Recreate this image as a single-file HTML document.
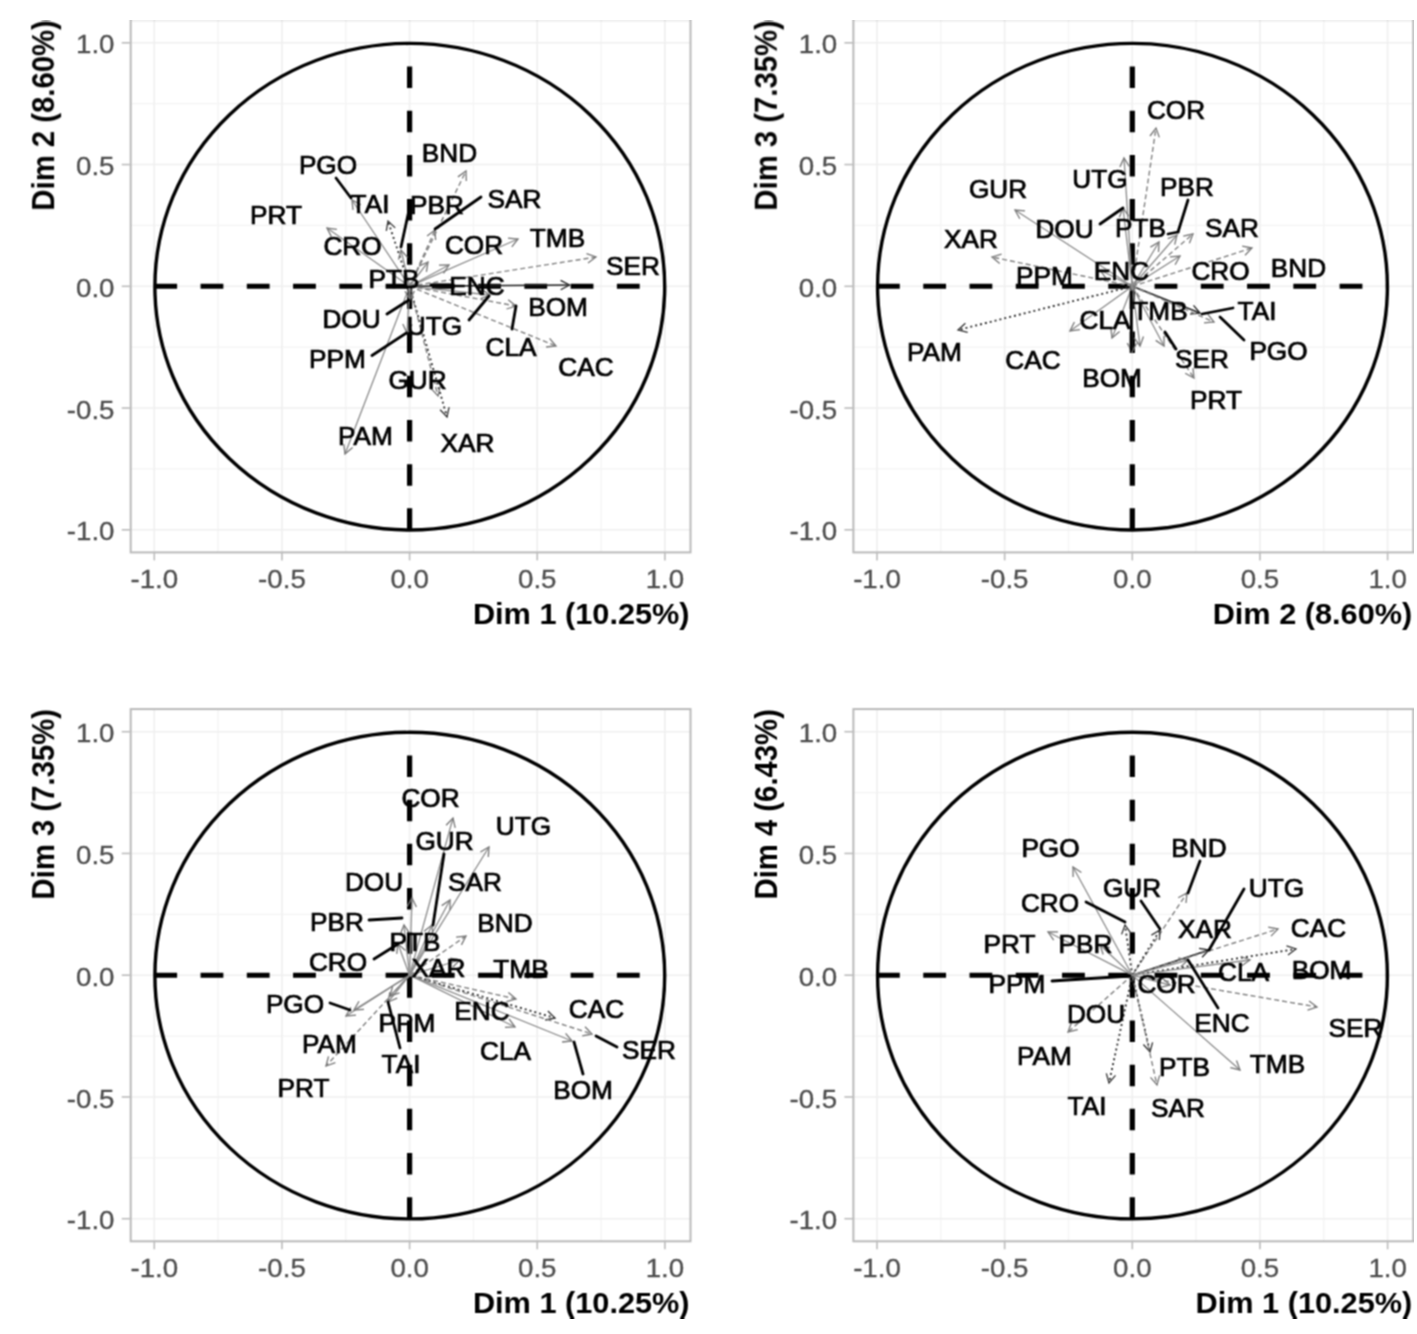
<!DOCTYPE html>
<html><head><meta charset="utf-8"><style>
html,body{margin:0;padding:0;background:#fff;}
svg{display:block;}
text{font-family:"Liberation Sans", sans-serif;}
</style></head><body>
<svg width="1417" height="1334" viewBox="0 0 1417 1334">
<defs><filter id="bl" x="0" y="0" width="1" height="1" color-interpolation-filters="sRGB"><feConvolveMatrix order="3" kernelMatrix="1 2 1 2 4 2 1 2 1" divisor="16" edgeMode="duplicate"/></filter></defs>
<rect width="1417" height="1334" fill="#fff"/>
<g filter="url(#bl)">
<line x1="218.12" y1="20.19999999999999" x2="218.12" y2="552.4000000000001" stroke="#f4f4f4" stroke-width="1.3"/>
<line x1="130.70000000000005" y1="468.93" x2="690.5" y2="468.93" stroke="#f4f4f4" stroke-width="1.3"/>
<line x1="345.78" y1="20.19999999999999" x2="345.78" y2="552.4000000000001" stroke="#f4f4f4" stroke-width="1.3"/>
<line x1="130.70000000000005" y1="347.18" x2="690.5" y2="347.18" stroke="#f4f4f4" stroke-width="1.3"/>
<line x1="473.43" y1="20.19999999999999" x2="473.43" y2="552.4000000000001" stroke="#f4f4f4" stroke-width="1.3"/>
<line x1="130.70000000000005" y1="225.43" x2="690.5" y2="225.43" stroke="#f4f4f4" stroke-width="1.3"/>
<line x1="601.08" y1="20.19999999999999" x2="601.08" y2="552.4000000000001" stroke="#f4f4f4" stroke-width="1.3"/>
<line x1="130.70000000000005" y1="103.68" x2="690.5" y2="103.68" stroke="#f4f4f4" stroke-width="1.3"/>
<line x1="154.30" y1="20.19999999999999" x2="154.30" y2="552.4000000000001" stroke="#efefef" stroke-width="1.6"/>
<line x1="130.70000000000005" y1="529.80" x2="690.5" y2="529.80" stroke="#efefef" stroke-width="1.6"/>
<line x1="281.95" y1="20.19999999999999" x2="281.95" y2="552.4000000000001" stroke="#efefef" stroke-width="1.6"/>
<line x1="130.70000000000005" y1="408.05" x2="690.5" y2="408.05" stroke="#efefef" stroke-width="1.6"/>
<line x1="409.60" y1="20.19999999999999" x2="409.60" y2="552.4000000000001" stroke="#efefef" stroke-width="1.6"/>
<line x1="130.70000000000005" y1="286.30" x2="690.5" y2="286.30" stroke="#efefef" stroke-width="1.6"/>
<line x1="537.25" y1="20.19999999999999" x2="537.25" y2="552.4000000000001" stroke="#efefef" stroke-width="1.6"/>
<line x1="130.70000000000005" y1="164.55" x2="690.5" y2="164.55" stroke="#efefef" stroke-width="1.6"/>
<line x1="664.90" y1="20.19999999999999" x2="664.90" y2="552.4000000000001" stroke="#efefef" stroke-width="1.6"/>
<line x1="130.70000000000005" y1="42.80" x2="690.5" y2="42.80" stroke="#efefef" stroke-width="1.6"/>
<rect x="130.70" y="20.20" width="559.80" height="532.20" fill="none" stroke="#bababa" stroke-width="2"/>
<line x1="154.30" y1="552.4000000000001" x2="154.30" y2="560.4000000000001" stroke="#bdbdbd" stroke-width="1.6"/>
<line x1="121.70000000000005" y1="529.80" x2="130.70000000000005" y2="529.80" stroke="#bdbdbd" stroke-width="1.6"/>
<text transform="translate(154.30,588.40) scale(1.0485,1)" font-size="26.4" text-anchor="middle" fill="#4d4d4d" font-weight="normal" stroke="#4d4d4d" stroke-width="0.3">-1.0</text>
<text transform="translate(114.50,540.40) scale(1.0485,1)" font-size="26.4" text-anchor="end" fill="#4d4d4d" font-weight="normal" stroke="#4d4d4d" stroke-width="0.3">-1.0</text>
<line x1="281.95" y1="552.4000000000001" x2="281.95" y2="560.4000000000001" stroke="#bdbdbd" stroke-width="1.6"/>
<line x1="121.70000000000005" y1="408.05" x2="130.70000000000005" y2="408.05" stroke="#bdbdbd" stroke-width="1.6"/>
<text transform="translate(281.95,588.40) scale(1.0485,1)" font-size="26.4" text-anchor="middle" fill="#4d4d4d" font-weight="normal" stroke="#4d4d4d" stroke-width="0.3">-0.5</text>
<text transform="translate(114.50,418.65) scale(1.0485,1)" font-size="26.4" text-anchor="end" fill="#4d4d4d" font-weight="normal" stroke="#4d4d4d" stroke-width="0.3">-0.5</text>
<line x1="409.60" y1="552.4000000000001" x2="409.60" y2="560.4000000000001" stroke="#bdbdbd" stroke-width="1.6"/>
<line x1="121.70000000000005" y1="286.30" x2="130.70000000000005" y2="286.30" stroke="#bdbdbd" stroke-width="1.6"/>
<text transform="translate(409.60,588.40) scale(1.0485,1)" font-size="26.4" text-anchor="middle" fill="#4d4d4d" font-weight="normal" stroke="#4d4d4d" stroke-width="0.3">0.0</text>
<text transform="translate(114.50,296.90) scale(1.0485,1)" font-size="26.4" text-anchor="end" fill="#4d4d4d" font-weight="normal" stroke="#4d4d4d" stroke-width="0.3">0.0</text>
<line x1="537.25" y1="552.4000000000001" x2="537.25" y2="560.4000000000001" stroke="#bdbdbd" stroke-width="1.6"/>
<line x1="121.70000000000005" y1="164.55" x2="130.70000000000005" y2="164.55" stroke="#bdbdbd" stroke-width="1.6"/>
<text transform="translate(537.25,588.40) scale(1.0485,1)" font-size="26.4" text-anchor="middle" fill="#4d4d4d" font-weight="normal" stroke="#4d4d4d" stroke-width="0.3">0.5</text>
<text transform="translate(114.50,175.15) scale(1.0485,1)" font-size="26.4" text-anchor="end" fill="#4d4d4d" font-weight="normal" stroke="#4d4d4d" stroke-width="0.3">0.5</text>
<line x1="664.90" y1="552.4000000000001" x2="664.90" y2="560.4000000000001" stroke="#bdbdbd" stroke-width="1.6"/>
<line x1="121.70000000000005" y1="42.80" x2="130.70000000000005" y2="42.80" stroke="#bdbdbd" stroke-width="1.6"/>
<text transform="translate(664.90,588.40) scale(1.0485,1)" font-size="26.4" text-anchor="middle" fill="#4d4d4d" font-weight="normal" stroke="#4d4d4d" stroke-width="0.3">1.0</text>
<text transform="translate(114.50,53.40) scale(1.0485,1)" font-size="26.4" text-anchor="end" fill="#4d4d4d" font-weight="normal" stroke="#4d4d4d" stroke-width="0.3">1.0</text>
<text transform="translate(689.60,623.70) scale(1.0485,1)" font-size="29.3" text-anchor="end" fill="#000" font-weight="bold" >Dim 1 (10.25%)</text>
<text transform="translate(54.40,20.20) scale(1.0485,1) rotate(-90)" font-size="29.3" text-anchor="end" fill="#000" font-weight="bold">Dim 2 (8.60%)</text>
<line x1="940.82" y1="20.19999999999999" x2="940.82" y2="552.4000000000001" stroke="#f4f4f4" stroke-width="1.3"/>
<line x1="853.4" y1="468.93" x2="1413.1999999999998" y2="468.93" stroke="#f4f4f4" stroke-width="1.3"/>
<line x1="1068.47" y1="20.19999999999999" x2="1068.47" y2="552.4000000000001" stroke="#f4f4f4" stroke-width="1.3"/>
<line x1="853.4" y1="347.18" x2="1413.1999999999998" y2="347.18" stroke="#f4f4f4" stroke-width="1.3"/>
<line x1="1196.12" y1="20.19999999999999" x2="1196.12" y2="552.4000000000001" stroke="#f4f4f4" stroke-width="1.3"/>
<line x1="853.4" y1="225.43" x2="1413.1999999999998" y2="225.43" stroke="#f4f4f4" stroke-width="1.3"/>
<line x1="1323.78" y1="20.19999999999999" x2="1323.78" y2="552.4000000000001" stroke="#f4f4f4" stroke-width="1.3"/>
<line x1="853.4" y1="103.68" x2="1413.1999999999998" y2="103.68" stroke="#f4f4f4" stroke-width="1.3"/>
<line x1="877.00" y1="20.19999999999999" x2="877.00" y2="552.4000000000001" stroke="#efefef" stroke-width="1.6"/>
<line x1="853.4" y1="529.80" x2="1413.1999999999998" y2="529.80" stroke="#efefef" stroke-width="1.6"/>
<line x1="1004.65" y1="20.19999999999999" x2="1004.65" y2="552.4000000000001" stroke="#efefef" stroke-width="1.6"/>
<line x1="853.4" y1="408.05" x2="1413.1999999999998" y2="408.05" stroke="#efefef" stroke-width="1.6"/>
<line x1="1132.30" y1="20.19999999999999" x2="1132.30" y2="552.4000000000001" stroke="#efefef" stroke-width="1.6"/>
<line x1="853.4" y1="286.30" x2="1413.1999999999998" y2="286.30" stroke="#efefef" stroke-width="1.6"/>
<line x1="1259.95" y1="20.19999999999999" x2="1259.95" y2="552.4000000000001" stroke="#efefef" stroke-width="1.6"/>
<line x1="853.4" y1="164.55" x2="1413.1999999999998" y2="164.55" stroke="#efefef" stroke-width="1.6"/>
<line x1="1387.60" y1="20.19999999999999" x2="1387.60" y2="552.4000000000001" stroke="#efefef" stroke-width="1.6"/>
<line x1="853.4" y1="42.80" x2="1413.1999999999998" y2="42.80" stroke="#efefef" stroke-width="1.6"/>
<rect x="853.40" y="20.20" width="559.80" height="532.20" fill="none" stroke="#bababa" stroke-width="2"/>
<line x1="877.00" y1="552.4000000000001" x2="877.00" y2="560.4000000000001" stroke="#bdbdbd" stroke-width="1.6"/>
<line x1="844.4" y1="529.80" x2="853.4" y2="529.80" stroke="#bdbdbd" stroke-width="1.6"/>
<text transform="translate(877.00,588.40) scale(1.0485,1)" font-size="26.4" text-anchor="middle" fill="#4d4d4d" font-weight="normal" stroke="#4d4d4d" stroke-width="0.3">-1.0</text>
<text transform="translate(837.20,540.40) scale(1.0485,1)" font-size="26.4" text-anchor="end" fill="#4d4d4d" font-weight="normal" stroke="#4d4d4d" stroke-width="0.3">-1.0</text>
<line x1="1004.65" y1="552.4000000000001" x2="1004.65" y2="560.4000000000001" stroke="#bdbdbd" stroke-width="1.6"/>
<line x1="844.4" y1="408.05" x2="853.4" y2="408.05" stroke="#bdbdbd" stroke-width="1.6"/>
<text transform="translate(1004.65,588.40) scale(1.0485,1)" font-size="26.4" text-anchor="middle" fill="#4d4d4d" font-weight="normal" stroke="#4d4d4d" stroke-width="0.3">-0.5</text>
<text transform="translate(837.20,418.65) scale(1.0485,1)" font-size="26.4" text-anchor="end" fill="#4d4d4d" font-weight="normal" stroke="#4d4d4d" stroke-width="0.3">-0.5</text>
<line x1="1132.30" y1="552.4000000000001" x2="1132.30" y2="560.4000000000001" stroke="#bdbdbd" stroke-width="1.6"/>
<line x1="844.4" y1="286.30" x2="853.4" y2="286.30" stroke="#bdbdbd" stroke-width="1.6"/>
<text transform="translate(1132.30,588.40) scale(1.0485,1)" font-size="26.4" text-anchor="middle" fill="#4d4d4d" font-weight="normal" stroke="#4d4d4d" stroke-width="0.3">0.0</text>
<text transform="translate(837.20,296.90) scale(1.0485,1)" font-size="26.4" text-anchor="end" fill="#4d4d4d" font-weight="normal" stroke="#4d4d4d" stroke-width="0.3">0.0</text>
<line x1="1259.95" y1="552.4000000000001" x2="1259.95" y2="560.4000000000001" stroke="#bdbdbd" stroke-width="1.6"/>
<line x1="844.4" y1="164.55" x2="853.4" y2="164.55" stroke="#bdbdbd" stroke-width="1.6"/>
<text transform="translate(1259.95,588.40) scale(1.0485,1)" font-size="26.4" text-anchor="middle" fill="#4d4d4d" font-weight="normal" stroke="#4d4d4d" stroke-width="0.3">0.5</text>
<text transform="translate(837.20,175.15) scale(1.0485,1)" font-size="26.4" text-anchor="end" fill="#4d4d4d" font-weight="normal" stroke="#4d4d4d" stroke-width="0.3">0.5</text>
<line x1="1387.60" y1="552.4000000000001" x2="1387.60" y2="560.4000000000001" stroke="#bdbdbd" stroke-width="1.6"/>
<line x1="844.4" y1="42.80" x2="853.4" y2="42.80" stroke="#bdbdbd" stroke-width="1.6"/>
<text transform="translate(1387.60,588.40) scale(1.0485,1)" font-size="26.4" text-anchor="middle" fill="#4d4d4d" font-weight="normal" stroke="#4d4d4d" stroke-width="0.3">1.0</text>
<text transform="translate(837.20,53.40) scale(1.0485,1)" font-size="26.4" text-anchor="end" fill="#4d4d4d" font-weight="normal" stroke="#4d4d4d" stroke-width="0.3">1.0</text>
<text transform="translate(1412.30,623.70) scale(1.0485,1)" font-size="29.3" text-anchor="end" fill="#000" font-weight="bold" >Dim 2 (8.60%)</text>
<text transform="translate(777.10,20.20) scale(1.0485,1) rotate(-90)" font-size="29.3" text-anchor="end" fill="#000" font-weight="bold">Dim 3 (7.35%)</text>
<line x1="218.12" y1="709.1" x2="218.12" y2="1241.3000000000002" stroke="#f4f4f4" stroke-width="1.3"/>
<line x1="130.70000000000005" y1="1157.83" x2="690.5" y2="1157.83" stroke="#f4f4f4" stroke-width="1.3"/>
<line x1="345.78" y1="709.1" x2="345.78" y2="1241.3000000000002" stroke="#f4f4f4" stroke-width="1.3"/>
<line x1="130.70000000000005" y1="1036.08" x2="690.5" y2="1036.08" stroke="#f4f4f4" stroke-width="1.3"/>
<line x1="473.43" y1="709.1" x2="473.43" y2="1241.3000000000002" stroke="#f4f4f4" stroke-width="1.3"/>
<line x1="130.70000000000005" y1="914.33" x2="690.5" y2="914.33" stroke="#f4f4f4" stroke-width="1.3"/>
<line x1="601.08" y1="709.1" x2="601.08" y2="1241.3000000000002" stroke="#f4f4f4" stroke-width="1.3"/>
<line x1="130.70000000000005" y1="792.58" x2="690.5" y2="792.58" stroke="#f4f4f4" stroke-width="1.3"/>
<line x1="154.30" y1="709.1" x2="154.30" y2="1241.3000000000002" stroke="#efefef" stroke-width="1.6"/>
<line x1="130.70000000000005" y1="1218.70" x2="690.5" y2="1218.70" stroke="#efefef" stroke-width="1.6"/>
<line x1="281.95" y1="709.1" x2="281.95" y2="1241.3000000000002" stroke="#efefef" stroke-width="1.6"/>
<line x1="130.70000000000005" y1="1096.95" x2="690.5" y2="1096.95" stroke="#efefef" stroke-width="1.6"/>
<line x1="409.60" y1="709.1" x2="409.60" y2="1241.3000000000002" stroke="#efefef" stroke-width="1.6"/>
<line x1="130.70000000000005" y1="975.20" x2="690.5" y2="975.20" stroke="#efefef" stroke-width="1.6"/>
<line x1="537.25" y1="709.1" x2="537.25" y2="1241.3000000000002" stroke="#efefef" stroke-width="1.6"/>
<line x1="130.70000000000005" y1="853.45" x2="690.5" y2="853.45" stroke="#efefef" stroke-width="1.6"/>
<line x1="664.90" y1="709.1" x2="664.90" y2="1241.3000000000002" stroke="#efefef" stroke-width="1.6"/>
<line x1="130.70000000000005" y1="731.70" x2="690.5" y2="731.70" stroke="#efefef" stroke-width="1.6"/>
<rect x="130.70" y="709.10" width="559.80" height="532.20" fill="none" stroke="#bababa" stroke-width="2"/>
<line x1="154.30" y1="1241.3000000000002" x2="154.30" y2="1249.3000000000002" stroke="#bdbdbd" stroke-width="1.6"/>
<line x1="121.70000000000005" y1="1218.70" x2="130.70000000000005" y2="1218.70" stroke="#bdbdbd" stroke-width="1.6"/>
<text transform="translate(154.30,1277.30) scale(1.0485,1)" font-size="26.4" text-anchor="middle" fill="#4d4d4d" font-weight="normal" stroke="#4d4d4d" stroke-width="0.3">-1.0</text>
<text transform="translate(114.50,1229.30) scale(1.0485,1)" font-size="26.4" text-anchor="end" fill="#4d4d4d" font-weight="normal" stroke="#4d4d4d" stroke-width="0.3">-1.0</text>
<line x1="281.95" y1="1241.3000000000002" x2="281.95" y2="1249.3000000000002" stroke="#bdbdbd" stroke-width="1.6"/>
<line x1="121.70000000000005" y1="1096.95" x2="130.70000000000005" y2="1096.95" stroke="#bdbdbd" stroke-width="1.6"/>
<text transform="translate(281.95,1277.30) scale(1.0485,1)" font-size="26.4" text-anchor="middle" fill="#4d4d4d" font-weight="normal" stroke="#4d4d4d" stroke-width="0.3">-0.5</text>
<text transform="translate(114.50,1107.55) scale(1.0485,1)" font-size="26.4" text-anchor="end" fill="#4d4d4d" font-weight="normal" stroke="#4d4d4d" stroke-width="0.3">-0.5</text>
<line x1="409.60" y1="1241.3000000000002" x2="409.60" y2="1249.3000000000002" stroke="#bdbdbd" stroke-width="1.6"/>
<line x1="121.70000000000005" y1="975.20" x2="130.70000000000005" y2="975.20" stroke="#bdbdbd" stroke-width="1.6"/>
<text transform="translate(409.60,1277.30) scale(1.0485,1)" font-size="26.4" text-anchor="middle" fill="#4d4d4d" font-weight="normal" stroke="#4d4d4d" stroke-width="0.3">0.0</text>
<text transform="translate(114.50,985.80) scale(1.0485,1)" font-size="26.4" text-anchor="end" fill="#4d4d4d" font-weight="normal" stroke="#4d4d4d" stroke-width="0.3">0.0</text>
<line x1="537.25" y1="1241.3000000000002" x2="537.25" y2="1249.3000000000002" stroke="#bdbdbd" stroke-width="1.6"/>
<line x1="121.70000000000005" y1="853.45" x2="130.70000000000005" y2="853.45" stroke="#bdbdbd" stroke-width="1.6"/>
<text transform="translate(537.25,1277.30) scale(1.0485,1)" font-size="26.4" text-anchor="middle" fill="#4d4d4d" font-weight="normal" stroke="#4d4d4d" stroke-width="0.3">0.5</text>
<text transform="translate(114.50,864.05) scale(1.0485,1)" font-size="26.4" text-anchor="end" fill="#4d4d4d" font-weight="normal" stroke="#4d4d4d" stroke-width="0.3">0.5</text>
<line x1="664.90" y1="1241.3000000000002" x2="664.90" y2="1249.3000000000002" stroke="#bdbdbd" stroke-width="1.6"/>
<line x1="121.70000000000005" y1="731.70" x2="130.70000000000005" y2="731.70" stroke="#bdbdbd" stroke-width="1.6"/>
<text transform="translate(664.90,1277.30) scale(1.0485,1)" font-size="26.4" text-anchor="middle" fill="#4d4d4d" font-weight="normal" stroke="#4d4d4d" stroke-width="0.3">1.0</text>
<text transform="translate(114.50,742.30) scale(1.0485,1)" font-size="26.4" text-anchor="end" fill="#4d4d4d" font-weight="normal" stroke="#4d4d4d" stroke-width="0.3">1.0</text>
<text transform="translate(689.60,1312.60) scale(1.0485,1)" font-size="29.3" text-anchor="end" fill="#000" font-weight="bold" >Dim 1 (10.25%)</text>
<text transform="translate(54.40,709.10) scale(1.0485,1) rotate(-90)" font-size="29.3" text-anchor="end" fill="#000" font-weight="bold">Dim 3 (7.35%)</text>
<line x1="940.82" y1="709.1" x2="940.82" y2="1241.3000000000002" stroke="#f4f4f4" stroke-width="1.3"/>
<line x1="853.4" y1="1157.83" x2="1413.1999999999998" y2="1157.83" stroke="#f4f4f4" stroke-width="1.3"/>
<line x1="1068.47" y1="709.1" x2="1068.47" y2="1241.3000000000002" stroke="#f4f4f4" stroke-width="1.3"/>
<line x1="853.4" y1="1036.08" x2="1413.1999999999998" y2="1036.08" stroke="#f4f4f4" stroke-width="1.3"/>
<line x1="1196.12" y1="709.1" x2="1196.12" y2="1241.3000000000002" stroke="#f4f4f4" stroke-width="1.3"/>
<line x1="853.4" y1="914.33" x2="1413.1999999999998" y2="914.33" stroke="#f4f4f4" stroke-width="1.3"/>
<line x1="1323.78" y1="709.1" x2="1323.78" y2="1241.3000000000002" stroke="#f4f4f4" stroke-width="1.3"/>
<line x1="853.4" y1="792.58" x2="1413.1999999999998" y2="792.58" stroke="#f4f4f4" stroke-width="1.3"/>
<line x1="877.00" y1="709.1" x2="877.00" y2="1241.3000000000002" stroke="#efefef" stroke-width="1.6"/>
<line x1="853.4" y1="1218.70" x2="1413.1999999999998" y2="1218.70" stroke="#efefef" stroke-width="1.6"/>
<line x1="1004.65" y1="709.1" x2="1004.65" y2="1241.3000000000002" stroke="#efefef" stroke-width="1.6"/>
<line x1="853.4" y1="1096.95" x2="1413.1999999999998" y2="1096.95" stroke="#efefef" stroke-width="1.6"/>
<line x1="1132.30" y1="709.1" x2="1132.30" y2="1241.3000000000002" stroke="#efefef" stroke-width="1.6"/>
<line x1="853.4" y1="975.20" x2="1413.1999999999998" y2="975.20" stroke="#efefef" stroke-width="1.6"/>
<line x1="1259.95" y1="709.1" x2="1259.95" y2="1241.3000000000002" stroke="#efefef" stroke-width="1.6"/>
<line x1="853.4" y1="853.45" x2="1413.1999999999998" y2="853.45" stroke="#efefef" stroke-width="1.6"/>
<line x1="1387.60" y1="709.1" x2="1387.60" y2="1241.3000000000002" stroke="#efefef" stroke-width="1.6"/>
<line x1="853.4" y1="731.70" x2="1413.1999999999998" y2="731.70" stroke="#efefef" stroke-width="1.6"/>
<rect x="853.40" y="709.10" width="559.80" height="532.20" fill="none" stroke="#bababa" stroke-width="2"/>
<line x1="877.00" y1="1241.3000000000002" x2="877.00" y2="1249.3000000000002" stroke="#bdbdbd" stroke-width="1.6"/>
<line x1="844.4" y1="1218.70" x2="853.4" y2="1218.70" stroke="#bdbdbd" stroke-width="1.6"/>
<text transform="translate(877.00,1277.30) scale(1.0485,1)" font-size="26.4" text-anchor="middle" fill="#4d4d4d" font-weight="normal" stroke="#4d4d4d" stroke-width="0.3">-1.0</text>
<text transform="translate(837.20,1229.30) scale(1.0485,1)" font-size="26.4" text-anchor="end" fill="#4d4d4d" font-weight="normal" stroke="#4d4d4d" stroke-width="0.3">-1.0</text>
<line x1="1004.65" y1="1241.3000000000002" x2="1004.65" y2="1249.3000000000002" stroke="#bdbdbd" stroke-width="1.6"/>
<line x1="844.4" y1="1096.95" x2="853.4" y2="1096.95" stroke="#bdbdbd" stroke-width="1.6"/>
<text transform="translate(1004.65,1277.30) scale(1.0485,1)" font-size="26.4" text-anchor="middle" fill="#4d4d4d" font-weight="normal" stroke="#4d4d4d" stroke-width="0.3">-0.5</text>
<text transform="translate(837.20,1107.55) scale(1.0485,1)" font-size="26.4" text-anchor="end" fill="#4d4d4d" font-weight="normal" stroke="#4d4d4d" stroke-width="0.3">-0.5</text>
<line x1="1132.30" y1="1241.3000000000002" x2="1132.30" y2="1249.3000000000002" stroke="#bdbdbd" stroke-width="1.6"/>
<line x1="844.4" y1="975.20" x2="853.4" y2="975.20" stroke="#bdbdbd" stroke-width="1.6"/>
<text transform="translate(1132.30,1277.30) scale(1.0485,1)" font-size="26.4" text-anchor="middle" fill="#4d4d4d" font-weight="normal" stroke="#4d4d4d" stroke-width="0.3">0.0</text>
<text transform="translate(837.20,985.80) scale(1.0485,1)" font-size="26.4" text-anchor="end" fill="#4d4d4d" font-weight="normal" stroke="#4d4d4d" stroke-width="0.3">0.0</text>
<line x1="1259.95" y1="1241.3000000000002" x2="1259.95" y2="1249.3000000000002" stroke="#bdbdbd" stroke-width="1.6"/>
<line x1="844.4" y1="853.45" x2="853.4" y2="853.45" stroke="#bdbdbd" stroke-width="1.6"/>
<text transform="translate(1259.95,1277.30) scale(1.0485,1)" font-size="26.4" text-anchor="middle" fill="#4d4d4d" font-weight="normal" stroke="#4d4d4d" stroke-width="0.3">0.5</text>
<text transform="translate(837.20,864.05) scale(1.0485,1)" font-size="26.4" text-anchor="end" fill="#4d4d4d" font-weight="normal" stroke="#4d4d4d" stroke-width="0.3">0.5</text>
<line x1="1387.60" y1="1241.3000000000002" x2="1387.60" y2="1249.3000000000002" stroke="#bdbdbd" stroke-width="1.6"/>
<line x1="844.4" y1="731.70" x2="853.4" y2="731.70" stroke="#bdbdbd" stroke-width="1.6"/>
<text transform="translate(1387.60,1277.30) scale(1.0485,1)" font-size="26.4" text-anchor="middle" fill="#4d4d4d" font-weight="normal" stroke="#4d4d4d" stroke-width="0.3">1.0</text>
<text transform="translate(837.20,742.30) scale(1.0485,1)" font-size="26.4" text-anchor="end" fill="#4d4d4d" font-weight="normal" stroke="#4d4d4d" stroke-width="0.3">1.0</text>
<text transform="translate(1412.30,1312.60) scale(1.0485,1)" font-size="29.3" text-anchor="end" fill="#000" font-weight="bold" >Dim 1 (10.25%)</text>
<text transform="translate(777.10,709.10) scale(1.0485,1) rotate(-90)" font-size="29.3" text-anchor="end" fill="#000" font-weight="bold">Dim 4 (6.43%)</text>
<line x1="154.30" y1="286.30" x2="664.90" y2="286.30" stroke="#000" stroke-width="5.0" stroke-dasharray="22.8 23.46"/>
<line x1="409.60" y1="529.80" x2="409.60" y2="42.80" stroke="#000" stroke-width="5.2" stroke-dasharray="21.5 22.67"/>
<ellipse cx="409.80" cy="286.70" rx="254.9" ry="243.3" fill="none" stroke="#000" stroke-width="3.4"/>
<line x1="877.00" y1="286.30" x2="1387.60" y2="286.30" stroke="#000" stroke-width="5.0" stroke-dasharray="22.8 23.46"/>
<line x1="1132.30" y1="529.80" x2="1132.30" y2="42.80" stroke="#000" stroke-width="5.2" stroke-dasharray="21.5 22.67"/>
<ellipse cx="1132.50" cy="286.70" rx="254.9" ry="243.3" fill="none" stroke="#000" stroke-width="3.4"/>
<line x1="154.30" y1="975.20" x2="664.90" y2="975.20" stroke="#000" stroke-width="5.0" stroke-dasharray="22.8 23.46"/>
<line x1="409.60" y1="1218.70" x2="409.60" y2="731.70" stroke="#000" stroke-width="5.2" stroke-dasharray="21.5 22.67"/>
<ellipse cx="409.80" cy="975.60" rx="254.9" ry="243.3" fill="none" stroke="#000" stroke-width="3.4"/>
<line x1="877.00" y1="975.20" x2="1387.60" y2="975.20" stroke="#000" stroke-width="5.0" stroke-dasharray="22.8 23.46"/>
<line x1="1132.30" y1="1218.70" x2="1132.30" y2="731.70" stroke="#000" stroke-width="5.2" stroke-dasharray="21.5 22.67"/>
<ellipse cx="1132.50" cy="975.60" rx="254.9" ry="243.3" fill="none" stroke="#000" stroke-width="3.4"/>
<line x1="409.6" y1="286.3" x2="352.0" y2="200.0" stroke="#8a8a8a" stroke-width="1.3"/>
<polyline points="360.8,204.7 352.0,200.0 353.0,210.0" fill="none" stroke="#777" stroke-width="1.3"/>
<line x1="409.6" y1="286.3" x2="388.0" y2="221.0" stroke="#333" stroke-width="1.9" stroke-dasharray="2 3"/>
<polyline points="395.2,227.9 388.0,221.0 386.3,230.9" fill="none" stroke="#333" stroke-width="1.3"/>
<line x1="409.6" y1="286.3" x2="327.0" y2="228.0" stroke="#8a8a8a" stroke-width="1.3"/>
<polyline points="336.9,229.3 327.0,228.0 331.5,236.9" fill="none" stroke="#777" stroke-width="1.3"/>
<line x1="409.6" y1="286.3" x2="401.0" y2="250.0" stroke="#8a8a8a" stroke-width="1.3"/>
<polyline points="407.6,257.5 401.0,250.0 398.5,259.7" fill="none" stroke="#777" stroke-width="1.3"/>
<line x1="409.6" y1="286.3" x2="466.0" y2="171.0" stroke="#808080" stroke-width="1.4" stroke-dasharray="5 3"/>
<polyline points="466.3,181.0 466.0,171.0 457.9,176.9" fill="none" stroke="#777" stroke-width="1.3"/>
<line x1="409.6" y1="286.3" x2="435.0" y2="230.0" stroke="#808080" stroke-width="1.4" stroke-dasharray="5 3"/>
<polyline points="435.6,240.0 435.0,230.0 427.1,236.1" fill="none" stroke="#777" stroke-width="1.3"/>
<line x1="409.6" y1="286.3" x2="518.0" y2="239.0" stroke="#8a8a8a" stroke-width="1.3"/>
<polyline points="511.8,246.8 518.0,239.0 508.0,238.2" fill="none" stroke="#777" stroke-width="1.3"/>
<line x1="409.6" y1="286.3" x2="449.0" y2="265.0" stroke="#8a8a8a" stroke-width="1.3"/>
<polyline points="443.5,273.3 449.0,265.0 439.0,265.1" fill="none" stroke="#777" stroke-width="1.3"/>
<line x1="409.6" y1="286.3" x2="428.0" y2="262.0" stroke="#8a8a8a" stroke-width="1.3"/>
<polyline points="426.4,271.9 428.0,262.0 418.9,266.2" fill="none" stroke="#777" stroke-width="1.3"/>
<line x1="409.6" y1="286.3" x2="596.0" y2="257.0" stroke="#808080" stroke-width="1.4" stroke-dasharray="5 3"/>
<polyline points="588.0,263.0 596.0,257.0 586.5,253.7" fill="none" stroke="#777" stroke-width="1.3"/>
<line x1="409.6" y1="286.3" x2="569.5" y2="285.0" stroke="#222" stroke-width="1.6"/>
<polyline points="560.7,289.8 569.5,285.0 560.6,280.4" fill="none" stroke="#222" stroke-width="1.3"/>
<line x1="409.6" y1="286.3" x2="516.0" y2="306.0" stroke="#808080" stroke-width="1.4" stroke-dasharray="5 3"/>
<polyline points="506.5,309.0 516.0,306.0 508.2,299.8" fill="none" stroke="#777" stroke-width="1.3"/>
<line x1="409.6" y1="286.3" x2="556.0" y2="346.0" stroke="#808080" stroke-width="1.4" stroke-dasharray="5 3"/>
<polyline points="546.1,347.0 556.0,346.0 549.6,338.3" fill="none" stroke="#777" stroke-width="1.3"/>
<line x1="409.6" y1="286.3" x2="490.0" y2="295.0" stroke="#8a8a8a" stroke-width="1.3"/>
<polyline points="480.7,298.7 490.0,295.0 481.7,289.4" fill="none" stroke="#777" stroke-width="1.3"/>
<line x1="409.6" y1="286.3" x2="447.0" y2="417.0" stroke="#333" stroke-width="1.9" stroke-dasharray="2 3"/>
<polyline points="440.1,409.8 447.0,417.0 449.1,407.2" fill="none" stroke="#333" stroke-width="1.3"/>
<line x1="409.6" y1="286.3" x2="438.0" y2="396.0" stroke="#808080" stroke-width="1.4" stroke-dasharray="5 3"/>
<polyline points="431.2,388.6 438.0,396.0 440.3,386.3" fill="none" stroke="#777" stroke-width="1.3"/>
<line x1="409.6" y1="286.3" x2="345.0" y2="454.0" stroke="#8a8a8a" stroke-width="1.3"/>
<polyline points="343.8,444.1 345.0,454.0 352.6,447.4" fill="none" stroke="#777" stroke-width="1.3"/>
<line x1="409.6" y1="286.3" x2="407.0" y2="333.0" stroke="#8a8a8a" stroke-width="1.3"/>
<polyline points="402.8,323.9 407.0,333.0 412.2,324.4" fill="none" stroke="#777" stroke-width="1.3"/>
<line x1="409.6" y1="286.3" x2="410.0" y2="300.0" stroke="#8a8a8a" stroke-width="1.3"/>
<polyline points="405.0,291.3 410.0,300.0 414.4,291.0" fill="none" stroke="#777" stroke-width="1.3"/>
<line x1="336" y1="178" x2="351" y2="198" stroke="#000" stroke-width="2.8" stroke-linecap="round"/>
<line x1="411" y1="201" x2="401" y2="247" stroke="#000" stroke-width="2.8" stroke-linecap="round"/>
<line x1="481" y1="197" x2="435" y2="229" stroke="#000" stroke-width="2.8" stroke-linecap="round"/>
<line x1="431" y1="285" x2="450" y2="285" stroke="#000" stroke-width="2.8" stroke-linecap="round"/>
<line x1="512" y1="329" x2="516" y2="306" stroke="#000" stroke-width="2.8" stroke-linecap="round"/>
<line x1="469" y1="320" x2="489" y2="296" stroke="#000" stroke-width="2.8" stroke-linecap="round"/>
<line x1="387" y1="314" x2="409" y2="300" stroke="#000" stroke-width="2.8" stroke-linecap="round"/>
<line x1="372" y1="355.5" x2="406.5" y2="333" stroke="#000" stroke-width="2.8" stroke-linecap="round"/>
<text transform="translate(328.00,173.90) scale(1.0485,1)" font-size="25.0" text-anchor="middle" fill="#000" font-weight="normal" stroke="#000" stroke-width="0.75">PGO</text>
<text transform="translate(449.50,161.90) scale(1.0485,1)" font-size="25.0" text-anchor="middle" fill="#000" font-weight="normal" stroke="#000" stroke-width="0.75">BND</text>
<text transform="translate(370.00,212.90) scale(1.0485,1)" font-size="25.0" text-anchor="middle" fill="#000" font-weight="normal" stroke="#000" stroke-width="0.75">TAI</text>
<text transform="translate(437.00,213.90) scale(1.0485,1)" font-size="25.0" text-anchor="middle" fill="#000" font-weight="normal" stroke="#000" stroke-width="0.75">PBR</text>
<text transform="translate(514.50,207.90) scale(1.0485,1)" font-size="25.0" text-anchor="middle" fill="#000" font-weight="normal" stroke="#000" stroke-width="0.75">SAR</text>
<text transform="translate(276.00,223.90) scale(1.0485,1)" font-size="25.0" text-anchor="middle" fill="#000" font-weight="normal" stroke="#000" stroke-width="0.75">PRT</text>
<text transform="translate(352.50,254.90) scale(1.0485,1)" font-size="25.0" text-anchor="middle" fill="#000" font-weight="normal" stroke="#000" stroke-width="0.75">CRO</text>
<text transform="translate(474.00,253.90) scale(1.0485,1)" font-size="25.0" text-anchor="middle" fill="#000" font-weight="normal" stroke="#000" stroke-width="0.75">COR</text>
<text transform="translate(394.00,287.90) scale(1.0485,1)" font-size="25.0" text-anchor="middle" fill="#000" font-weight="normal" stroke="#000" stroke-width="0.75">PTB</text>
<text transform="translate(477.00,294.90) scale(1.0485,1)" font-size="25.0" text-anchor="middle" fill="#000" font-weight="normal" stroke="#000" stroke-width="0.75">ENC</text>
<text transform="translate(351.50,327.90) scale(1.0485,1)" font-size="25.0" text-anchor="middle" fill="#000" font-weight="normal" stroke="#000" stroke-width="0.75">DOU</text>
<text transform="translate(434.50,334.90) scale(1.0485,1)" font-size="25.0" text-anchor="middle" fill="#000" font-weight="normal" stroke="#000" stroke-width="0.75">UTG</text>
<text transform="translate(337.50,367.90) scale(1.0485,1)" font-size="25.0" text-anchor="middle" fill="#000" font-weight="normal" stroke="#000" stroke-width="0.75">PPM</text>
<text transform="translate(417.50,388.90) scale(1.0485,1)" font-size="25.0" text-anchor="middle" fill="#000" font-weight="normal" stroke="#000" stroke-width="0.75">GUR</text>
<text transform="translate(511.00,355.90) scale(1.0485,1)" font-size="25.0" text-anchor="middle" fill="#000" font-weight="normal" stroke="#000" stroke-width="0.75">CLA</text>
<text transform="translate(557.50,246.90) scale(1.0485,1)" font-size="25.0" text-anchor="middle" fill="#000" font-weight="normal" stroke="#000" stroke-width="0.75">TMB</text>
<text transform="translate(633.00,274.90) scale(1.0485,1)" font-size="25.0" text-anchor="middle" fill="#000" font-weight="normal" stroke="#000" stroke-width="0.75">SER</text>
<text transform="translate(558.00,315.90) scale(1.0485,1)" font-size="25.0" text-anchor="middle" fill="#000" font-weight="normal" stroke="#000" stroke-width="0.75">BOM</text>
<text transform="translate(586.00,375.90) scale(1.0485,1)" font-size="25.0" text-anchor="middle" fill="#000" font-weight="normal" stroke="#000" stroke-width="0.75">CAC</text>
<text transform="translate(365.50,444.90) scale(1.0485,1)" font-size="25.0" text-anchor="middle" fill="#000" font-weight="normal" stroke="#000" stroke-width="0.75">PAM</text>
<text transform="translate(467.50,451.90) scale(1.0485,1)" font-size="25.0" text-anchor="middle" fill="#000" font-weight="normal" stroke="#000" stroke-width="0.75">XAR</text>
<line x1="1132.3" y1="286.3" x2="1156.0" y2="128.0" stroke="#808080" stroke-width="1.4" stroke-dasharray="5 3"/>
<polyline points="1159.3,137.4 1156.0,128.0 1150.0,136.0" fill="none" stroke="#777" stroke-width="1.3"/>
<line x1="1132.3" y1="286.3" x2="1124.0" y2="158.0" stroke="#8a8a8a" stroke-width="1.3"/>
<polyline points="1129.3,166.5 1124.0,158.0 1119.9,167.1" fill="none" stroke="#777" stroke-width="1.3"/>
<line x1="1132.3" y1="286.3" x2="1015.0" y2="210.0" stroke="#8a8a8a" stroke-width="1.3"/>
<polyline points="1025.0,210.9 1015.0,210.0 1019.8,218.7" fill="none" stroke="#777" stroke-width="1.3"/>
<line x1="1132.3" y1="286.3" x2="992.0" y2="257.0" stroke="#808080" stroke-width="1.4" stroke-dasharray="5 3"/>
<polyline points="1001.6,254.2 992.0,257.0 999.7,263.4" fill="none" stroke="#777" stroke-width="1.3"/>
<line x1="1132.3" y1="286.3" x2="958.0" y2="330.0" stroke="#333" stroke-width="1.9" stroke-dasharray="2 3"/>
<polyline points="965.4,323.3 958.0,330.0 967.7,332.4" fill="none" stroke="#333" stroke-width="1.3"/>
<line x1="1132.3" y1="286.3" x2="1070.0" y2="331.0" stroke="#8a8a8a" stroke-width="1.3"/>
<polyline points="1074.4,322.0 1070.0,331.0 1079.9,329.7" fill="none" stroke="#777" stroke-width="1.3"/>
<line x1="1132.3" y1="286.3" x2="1112.0" y2="338.0" stroke="#8a8a8a" stroke-width="1.3"/>
<polyline points="1110.9,328.1 1112.0,338.0 1119.6,331.5" fill="none" stroke="#777" stroke-width="1.3"/>
<line x1="1132.3" y1="286.3" x2="1132.0" y2="352.0" stroke="#8a8a8a" stroke-width="1.3"/>
<polyline points="1127.3,343.1 1132.0,352.0 1136.7,343.2" fill="none" stroke="#777" stroke-width="1.3"/>
<line x1="1132.3" y1="286.3" x2="1177.0" y2="235.0" stroke="#8a8a8a" stroke-width="1.3"/>
<polyline points="1174.7,244.7 1177.0,235.0 1167.7,238.6" fill="none" stroke="#777" stroke-width="1.3"/>
<line x1="1132.3" y1="286.3" x2="1193.0" y2="234.0" stroke="#808080" stroke-width="1.4" stroke-dasharray="5 3"/>
<polyline points="1189.4,243.3 1193.0,234.0 1183.2,236.2" fill="none" stroke="#777" stroke-width="1.3"/>
<line x1="1132.3" y1="286.3" x2="1252.0" y2="248.0" stroke="#808080" stroke-width="1.4" stroke-dasharray="5 3"/>
<polyline points="1245.0,255.2 1252.0,248.0 1242.2,246.2" fill="none" stroke="#777" stroke-width="1.3"/>
<line x1="1132.3" y1="286.3" x2="1180.0" y2="256.0" stroke="#8a8a8a" stroke-width="1.3"/>
<polyline points="1175.1,264.7 1180.0,256.0 1170.0,256.8" fill="none" stroke="#777" stroke-width="1.3"/>
<line x1="1132.3" y1="286.3" x2="1200.0" y2="313.0" stroke="#222" stroke-width="1.6"/>
<polyline points="1190.1,314.1 1200.0,313.0 1193.5,305.4" fill="none" stroke="#222" stroke-width="1.3"/>
<line x1="1132.3" y1="286.3" x2="1214.0" y2="322.0" stroke="#808080" stroke-width="1.4" stroke-dasharray="5 3"/>
<polyline points="1204.0,322.8 1214.0,322.0 1207.8,314.2" fill="none" stroke="#777" stroke-width="1.3"/>
<line x1="1132.3" y1="286.3" x2="1194.0" y2="378.0" stroke="#808080" stroke-width="1.4" stroke-dasharray="5 3"/>
<polyline points="1185.2,373.3 1194.0,378.0 1193.0,368.1" fill="none" stroke="#777" stroke-width="1.3"/>
<line x1="1132.3" y1="286.3" x2="1164.0" y2="346.0" stroke="#8a8a8a" stroke-width="1.3"/>
<polyline points="1155.7,340.4 1164.0,346.0 1164.0,336.0" fill="none" stroke="#777" stroke-width="1.3"/>
<line x1="1132.3" y1="286.3" x2="1140.0" y2="346.0" stroke="#8a8a8a" stroke-width="1.3"/>
<polyline points="1134.2,337.8 1140.0,346.0 1143.5,336.6" fill="none" stroke="#777" stroke-width="1.3"/>
<line x1="1132.3" y1="286.3" x2="1123.0" y2="208.0" stroke="#8a8a8a" stroke-width="1.3"/>
<polyline points="1128.7,216.2 1123.0,208.0 1119.4,217.3" fill="none" stroke="#777" stroke-width="1.3"/>
<line x1="1132.3" y1="286.3" x2="1159.0" y2="242.0" stroke="#8a8a8a" stroke-width="1.3"/>
<polyline points="1158.5,252.0 1159.0,242.0 1150.4,247.1" fill="none" stroke="#777" stroke-width="1.3"/>
<line x1="1132.3" y1="286.3" x2="1100.0" y2="270.0" stroke="#8a8a8a" stroke-width="1.3"/>
<polyline points="1110.0,269.8 1100.0,270.0 1105.8,278.2" fill="none" stroke="#777" stroke-width="1.3"/>
<line x1="1100" y1="224" x2="1123" y2="208" stroke="#000" stroke-width="2.8" stroke-linecap="round"/>
<line x1="1188" y1="200" x2="1178" y2="232" stroke="#000" stroke-width="2.8" stroke-linecap="round"/>
<line x1="1178" y1="232" x2="1168" y2="234" stroke="#000" stroke-width="2.8" stroke-linecap="round"/>
<line x1="1233" y1="308" x2="1202" y2="314" stroke="#000" stroke-width="2.8" stroke-linecap="round"/>
<line x1="1220" y1="317" x2="1244" y2="340" stroke="#000" stroke-width="2.8" stroke-linecap="round"/>
<line x1="1165" y1="332" x2="1176" y2="349" stroke="#000" stroke-width="2.8" stroke-linecap="round"/>
<line x1="1131.3" y1="292" x2="1131.3" y2="350" stroke="#000" stroke-width="2.8" stroke-linecap="round"/>
<text transform="translate(1176.00,118.90) scale(1.0485,1)" font-size="25.0" text-anchor="middle" fill="#000" font-weight="normal" stroke="#000" stroke-width="0.75">COR</text>
<text transform="translate(998.00,197.90) scale(1.0485,1)" font-size="25.0" text-anchor="middle" fill="#000" font-weight="normal" stroke="#000" stroke-width="0.75">GUR</text>
<text transform="translate(1100.00,187.90) scale(1.0485,1)" font-size="25.0" text-anchor="middle" fill="#000" font-weight="normal" stroke="#000" stroke-width="0.75">UTG</text>
<text transform="translate(1187.00,195.90) scale(1.0485,1)" font-size="25.0" text-anchor="middle" fill="#000" font-weight="normal" stroke="#000" stroke-width="0.75">PBR</text>
<text transform="translate(971.00,247.90) scale(1.0485,1)" font-size="25.0" text-anchor="middle" fill="#000" font-weight="normal" stroke="#000" stroke-width="0.75">XAR</text>
<text transform="translate(1064.50,237.90) scale(1.0485,1)" font-size="25.0" text-anchor="middle" fill="#000" font-weight="normal" stroke="#000" stroke-width="0.75">DOU</text>
<text transform="translate(1140.50,236.90) scale(1.0485,1)" font-size="25.0" text-anchor="middle" fill="#000" font-weight="normal" stroke="#000" stroke-width="0.75">PTB</text>
<text transform="translate(1232.00,236.90) scale(1.0485,1)" font-size="25.0" text-anchor="middle" fill="#000" font-weight="normal" stroke="#000" stroke-width="0.75">SAR</text>
<text transform="translate(1121.50,279.90) scale(1.0485,1)" font-size="25.0" text-anchor="middle" fill="#000" font-weight="normal" stroke="#000" stroke-width="0.75">ENC</text>
<text transform="translate(1220.50,279.90) scale(1.0485,1)" font-size="25.0" text-anchor="middle" fill="#000" font-weight="normal" stroke="#000" stroke-width="0.75">CRO</text>
<text transform="translate(1298.50,276.90) scale(1.0485,1)" font-size="25.0" text-anchor="middle" fill="#000" font-weight="normal" stroke="#000" stroke-width="0.75">BND</text>
<text transform="translate(1044.50,284.90) scale(1.0485,1)" font-size="25.0" text-anchor="middle" fill="#000" font-weight="normal" stroke="#000" stroke-width="0.75">PPM</text>
<text transform="translate(1160.00,319.90) scale(1.0485,1)" font-size="25.0" text-anchor="middle" fill="#000" font-weight="normal" stroke="#000" stroke-width="0.75">TMB</text>
<text transform="translate(1257.00,319.90) scale(1.0485,1)" font-size="25.0" text-anchor="middle" fill="#000" font-weight="normal" stroke="#000" stroke-width="0.75">TAI</text>
<text transform="translate(1105.00,328.90) scale(1.0485,1)" font-size="25.0" text-anchor="middle" fill="#000" font-weight="normal" stroke="#000" stroke-width="0.75">CLA</text>
<text transform="translate(934.50,360.90) scale(1.0485,1)" font-size="25.0" text-anchor="middle" fill="#000" font-weight="normal" stroke="#000" stroke-width="0.75">PAM</text>
<text transform="translate(1033.00,368.90) scale(1.0485,1)" font-size="25.0" text-anchor="middle" fill="#000" font-weight="normal" stroke="#000" stroke-width="0.75">CAC</text>
<text transform="translate(1278.50,359.90) scale(1.0485,1)" font-size="25.0" text-anchor="middle" fill="#000" font-weight="normal" stroke="#000" stroke-width="0.75">PGO</text>
<text transform="translate(1202.00,367.90) scale(1.0485,1)" font-size="25.0" text-anchor="middle" fill="#000" font-weight="normal" stroke="#000" stroke-width="0.75">SER</text>
<text transform="translate(1112.00,386.90) scale(1.0485,1)" font-size="25.0" text-anchor="middle" fill="#000" font-weight="normal" stroke="#000" stroke-width="0.75">BOM</text>
<text transform="translate(1216.00,408.90) scale(1.0485,1)" font-size="25.0" text-anchor="middle" fill="#000" font-weight="normal" stroke="#000" stroke-width="0.75">PRT</text>
<line x1="409.6" y1="975.2" x2="453.0" y2="818.0" stroke="#8a8a8a" stroke-width="1.3"/>
<polyline points="455.2,827.8 453.0,818.0 446.1,825.3" fill="none" stroke="#777" stroke-width="1.3"/>
<line x1="409.6" y1="975.2" x2="489.0" y2="847.0" stroke="#8a8a8a" stroke-width="1.3"/>
<polyline points="488.3,857.0 489.0,847.0 480.4,852.0" fill="none" stroke="#777" stroke-width="1.3"/>
<line x1="409.6" y1="975.2" x2="432.0" y2="925.0" stroke="#8a8a8a" stroke-width="1.3"/>
<polyline points="432.7,935.0 432.0,925.0 424.1,931.2" fill="none" stroke="#777" stroke-width="1.3"/>
<line x1="409.6" y1="975.2" x2="412.0" y2="898.0" stroke="#8a8a8a" stroke-width="1.3"/>
<polyline points="416.4,907.0 412.0,898.0 407.0,906.7" fill="none" stroke="#777" stroke-width="1.3"/>
<line x1="409.6" y1="975.2" x2="404.0" y2="925.0" stroke="#8a8a8a" stroke-width="1.3"/>
<polyline points="409.6,933.3 404.0,925.0 400.3,934.3" fill="none" stroke="#777" stroke-width="1.3"/>
<line x1="409.6" y1="975.2" x2="466.0" y2="936.0" stroke="#808080" stroke-width="1.4" stroke-dasharray="5 3"/>
<polyline points="461.4,944.9 466.0,936.0 456.1,937.2" fill="none" stroke="#777" stroke-width="1.3"/>
<line x1="409.6" y1="975.2" x2="398.0" y2="944.0" stroke="#8a8a8a" stroke-width="1.3"/>
<polyline points="405.5,950.6 398.0,944.0 396.7,953.9" fill="none" stroke="#777" stroke-width="1.3"/>
<line x1="409.6" y1="975.2" x2="346.0" y2="1016.0" stroke="#8a8a8a" stroke-width="1.3"/>
<polyline points="350.9,1007.3 346.0,1016.0 356.0,1015.2" fill="none" stroke="#777" stroke-width="1.3"/>
<line x1="409.6" y1="975.2" x2="354.0" y2="1010.0" stroke="#8a8a8a" stroke-width="1.3"/>
<polyline points="359.0,1001.3 354.0,1010.0 364.0,1009.3" fill="none" stroke="#777" stroke-width="1.3"/>
<line x1="409.6" y1="975.2" x2="326.0" y2="1066.0" stroke="#808080" stroke-width="1.4" stroke-dasharray="5 3"/>
<polyline points="328.5,1056.3 326.0,1066.0 335.4,1062.7" fill="none" stroke="#777" stroke-width="1.3"/>
<line x1="409.6" y1="975.2" x2="388.0" y2="1002.0" stroke="#8a8a8a" stroke-width="1.3"/>
<polyline points="389.9,992.2 388.0,1002.0 397.2,998.1" fill="none" stroke="#777" stroke-width="1.3"/>
<line x1="409.6" y1="975.2" x2="390.0" y2="996.0" stroke="#8a8a8a" stroke-width="1.3"/>
<polyline points="392.6,986.4 390.0,996.0 399.5,992.8" fill="none" stroke="#777" stroke-width="1.3"/>
<line x1="409.6" y1="975.2" x2="516.0" y2="999.0" stroke="#808080" stroke-width="1.4" stroke-dasharray="5 3"/>
<polyline points="506.4,1001.7 516.0,999.0 508.4,992.5" fill="none" stroke="#777" stroke-width="1.3"/>
<line x1="409.6" y1="975.2" x2="515.0" y2="1027.0" stroke="#8a8a8a" stroke-width="1.3"/>
<polyline points="505.0,1027.3 515.0,1027.0 509.1,1018.9" fill="none" stroke="#777" stroke-width="1.3"/>
<line x1="409.6" y1="975.2" x2="555.0" y2="1018.0" stroke="#333" stroke-width="1.9" stroke-dasharray="2 3"/>
<polyline points="545.2,1020.0 555.0,1018.0 547.9,1011.0" fill="none" stroke="#333" stroke-width="1.3"/>
<line x1="409.6" y1="975.2" x2="592.0" y2="1034.0" stroke="#808080" stroke-width="1.4" stroke-dasharray="5 3"/>
<polyline points="582.2,1035.8 592.0,1034.0 585.0,1026.8" fill="none" stroke="#777" stroke-width="1.3"/>
<line x1="409.6" y1="975.2" x2="572.0" y2="1041.0" stroke="#8a8a8a" stroke-width="1.3"/>
<polyline points="562.1,1042.0 572.0,1041.0 565.6,1033.3" fill="none" stroke="#777" stroke-width="1.3"/>
<line x1="409.6" y1="975.2" x2="460.0" y2="960.0" stroke="#8a8a8a" stroke-width="1.3"/>
<polyline points="452.9,967.0 460.0,960.0 450.2,958.1" fill="none" stroke="#777" stroke-width="1.3"/>
<line x1="409.6" y1="975.2" x2="450.0" y2="900.0" stroke="#8a8a8a" stroke-width="1.3"/>
<polyline points="450.0,910.0 450.0,900.0 441.7,905.6" fill="none" stroke="#777" stroke-width="1.3"/>
<line x1="444" y1="854" x2="433" y2="925" stroke="#000" stroke-width="2.8" stroke-linecap="round"/>
<line x1="369" y1="920" x2="402" y2="918" stroke="#000" stroke-width="2.8" stroke-linecap="round"/>
<line x1="374" y1="959" x2="398" y2="944" stroke="#000" stroke-width="2.8" stroke-linecap="round"/>
<line x1="330" y1="1003" x2="350" y2="1010" stroke="#000" stroke-width="2.8" stroke-linecap="round"/>
<line x1="388" y1="1002" x2="400" y2="1048" stroke="#000" stroke-width="2.8" stroke-linecap="round"/>
<line x1="596" y1="1036" x2="617" y2="1047" stroke="#000" stroke-width="2.8" stroke-linecap="round"/>
<line x1="574" y1="1042" x2="583" y2="1074" stroke="#000" stroke-width="2.8" stroke-linecap="round"/>
<text transform="translate(430.50,806.90) scale(1.0485,1)" font-size="25.0" text-anchor="middle" fill="#000" font-weight="normal" stroke="#000" stroke-width="0.75">COR</text>
<text transform="translate(523.50,834.90) scale(1.0485,1)" font-size="25.0" text-anchor="middle" fill="#000" font-weight="normal" stroke="#000" stroke-width="0.75">UTG</text>
<text transform="translate(444.50,849.90) scale(1.0485,1)" font-size="25.0" text-anchor="middle" fill="#000" font-weight="normal" stroke="#000" stroke-width="0.75">GUR</text>
<text transform="translate(374.00,890.90) scale(1.0485,1)" font-size="25.0" text-anchor="middle" fill="#000" font-weight="normal" stroke="#000" stroke-width="0.75">DOU</text>
<text transform="translate(475.00,890.90) scale(1.0485,1)" font-size="25.0" text-anchor="middle" fill="#000" font-weight="normal" stroke="#000" stroke-width="0.75">SAR</text>
<text transform="translate(337.00,930.90) scale(1.0485,1)" font-size="25.0" text-anchor="middle" fill="#000" font-weight="normal" stroke="#000" stroke-width="0.75">PBR</text>
<text transform="translate(505.00,931.90) scale(1.0485,1)" font-size="25.0" text-anchor="middle" fill="#000" font-weight="normal" stroke="#000" stroke-width="0.75">BND</text>
<text transform="translate(415.00,950.90) scale(1.0485,1)" font-size="25.0" text-anchor="middle" fill="#000" font-weight="normal" stroke="#000" stroke-width="0.75">PTB</text>
<text transform="translate(338.00,970.90) scale(1.0485,1)" font-size="25.0" text-anchor="middle" fill="#000" font-weight="normal" stroke="#000" stroke-width="0.75">CRO</text>
<text transform="translate(438.50,976.90) scale(1.0485,1)" font-size="25.0" text-anchor="middle" fill="#000" font-weight="normal" stroke="#000" stroke-width="0.75">XAR</text>
<text transform="translate(521.00,977.90) scale(1.0485,1)" font-size="25.0" text-anchor="middle" fill="#000" font-weight="normal" stroke="#000" stroke-width="0.75">TMB</text>
<text transform="translate(295.00,1012.90) scale(1.0485,1)" font-size="25.0" text-anchor="middle" fill="#000" font-weight="normal" stroke="#000" stroke-width="0.75">PGO</text>
<text transform="translate(482.00,1019.90) scale(1.0485,1)" font-size="25.0" text-anchor="middle" fill="#000" font-weight="normal" stroke="#000" stroke-width="0.75">ENC</text>
<text transform="translate(596.50,1017.90) scale(1.0485,1)" font-size="25.0" text-anchor="middle" fill="#000" font-weight="normal" stroke="#000" stroke-width="0.75">CAC</text>
<text transform="translate(407.00,1031.90) scale(1.0485,1)" font-size="25.0" text-anchor="middle" fill="#000" font-weight="normal" stroke="#000" stroke-width="0.75">PPM</text>
<text transform="translate(329.50,1052.90) scale(1.0485,1)" font-size="25.0" text-anchor="middle" fill="#000" font-weight="normal" stroke="#000" stroke-width="0.75">PAM</text>
<text transform="translate(505.50,1059.90) scale(1.0485,1)" font-size="25.0" text-anchor="middle" fill="#000" font-weight="normal" stroke="#000" stroke-width="0.75">CLA</text>
<text transform="translate(649.00,1058.90) scale(1.0485,1)" font-size="25.0" text-anchor="middle" fill="#000" font-weight="normal" stroke="#000" stroke-width="0.75">SER</text>
<text transform="translate(401.00,1072.90) scale(1.0485,1)" font-size="25.0" text-anchor="middle" fill="#000" font-weight="normal" stroke="#000" stroke-width="0.75">TAI</text>
<text transform="translate(303.50,1096.90) scale(1.0485,1)" font-size="25.0" text-anchor="middle" fill="#000" font-weight="normal" stroke="#000" stroke-width="0.75">PRT</text>
<text transform="translate(583.00,1098.90) scale(1.0485,1)" font-size="25.0" text-anchor="middle" fill="#000" font-weight="normal" stroke="#000" stroke-width="0.75">BOM</text>
<line x1="1132.3" y1="975.2" x2="1073.0" y2="867.0" stroke="#8a8a8a" stroke-width="1.3"/>
<polyline points="1081.4,872.5 1073.0,867.0 1073.1,877.0" fill="none" stroke="#777" stroke-width="1.3"/>
<line x1="1132.3" y1="975.2" x2="1048.0" y2="932.0" stroke="#8a8a8a" stroke-width="1.3"/>
<polyline points="1058.0,931.8 1048.0,932.0 1053.7,940.2" fill="none" stroke="#777" stroke-width="1.3"/>
<line x1="1132.3" y1="975.2" x2="1125.0" y2="925.0" stroke="#333" stroke-width="1.9" stroke-dasharray="2 3"/>
<polyline points="1130.9,933.1 1125.0,925.0 1121.6,934.4" fill="none" stroke="#333" stroke-width="1.3"/>
<line x1="1132.3" y1="975.2" x2="1187.0" y2="893.0" stroke="#808080" stroke-width="1.4" stroke-dasharray="5 3"/>
<polyline points="1186.0,903.0 1187.0,893.0 1178.2,897.7" fill="none" stroke="#777" stroke-width="1.3"/>
<line x1="1132.3" y1="975.2" x2="1160.0" y2="930.0" stroke="#333" stroke-width="1.9" stroke-dasharray="2 3"/>
<polyline points="1159.4,940.0 1160.0,930.0 1151.4,935.1" fill="none" stroke="#333" stroke-width="1.3"/>
<line x1="1132.3" y1="975.2" x2="1209.0" y2="950.0" stroke="#222" stroke-width="1.6"/>
<polyline points="1202.1,957.2 1209.0,950.0 1199.1,948.3" fill="none" stroke="#222" stroke-width="1.3"/>
<line x1="1132.3" y1="975.2" x2="1278.0" y2="929.0" stroke="#808080" stroke-width="1.4" stroke-dasharray="5 3"/>
<polyline points="1271.0,936.1 1278.0,929.0 1268.2,927.2" fill="none" stroke="#777" stroke-width="1.3"/>
<line x1="1132.3" y1="975.2" x2="1296.0" y2="949.0" stroke="#333" stroke-width="1.9" stroke-dasharray="2 3"/>
<polyline points="1288.0,955.0 1296.0,949.0 1286.5,945.8" fill="none" stroke="#333" stroke-width="1.3"/>
<line x1="1132.3" y1="975.2" x2="1317.0" y2="1007.0" stroke="#808080" stroke-width="1.4" stroke-dasharray="5 3"/>
<polyline points="1307.5,1010.1 1317.0,1007.0 1309.1,1000.9" fill="none" stroke="#777" stroke-width="1.3"/>
<line x1="1132.3" y1="975.2" x2="1240.0" y2="1070.0" stroke="#8a8a8a" stroke-width="1.3"/>
<polyline points="1230.3,1067.7 1240.0,1070.0 1236.5,1060.6" fill="none" stroke="#777" stroke-width="1.3"/>
<line x1="1132.3" y1="975.2" x2="1188.0" y2="960.0" stroke="#8a8a8a" stroke-width="1.3"/>
<polyline points="1180.7,966.9 1188.0,960.0 1178.2,957.8" fill="none" stroke="#777" stroke-width="1.3"/>
<line x1="1132.3" y1="975.2" x2="1150.0" y2="1052.0" stroke="#333" stroke-width="1.9" stroke-dasharray="2 3"/>
<polyline points="1143.4,1044.5 1150.0,1052.0 1152.6,1042.3" fill="none" stroke="#333" stroke-width="1.3"/>
<line x1="1132.3" y1="975.2" x2="1157.0" y2="1085.0" stroke="#808080" stroke-width="1.4" stroke-dasharray="5 3"/>
<polyline points="1150.5,1077.4 1157.0,1085.0 1159.6,1075.4" fill="none" stroke="#777" stroke-width="1.3"/>
<line x1="1132.3" y1="975.2" x2="1109.0" y2="1083.0" stroke="#333" stroke-width="1.9" stroke-dasharray="2 3"/>
<polyline points="1106.3,1073.4 1109.0,1083.0 1115.5,1075.4" fill="none" stroke="#333" stroke-width="1.3"/>
<line x1="1132.3" y1="975.2" x2="1068.0" y2="1032.0" stroke="#808080" stroke-width="1.4" stroke-dasharray="5 3"/>
<polyline points="1071.5,1022.6 1068.0,1032.0 1077.7,1029.7" fill="none" stroke="#777" stroke-width="1.3"/>
<line x1="1132.3" y1="975.2" x2="1250.0" y2="960.0" stroke="#8a8a8a" stroke-width="1.3"/>
<polyline points="1241.8,965.8 1250.0,960.0 1240.6,956.5" fill="none" stroke="#777" stroke-width="1.3"/>
<line x1="1132.3" y1="975.2" x2="1170.0" y2="985.0" stroke="#8a8a8a" stroke-width="1.3"/>
<polyline points="1160.3,987.3 1170.0,985.0 1162.6,978.2" fill="none" stroke="#777" stroke-width="1.3"/>
<line x1="1132.3" y1="975.2" x2="1100.0" y2="945.0" stroke="#8a8a8a" stroke-width="1.3"/>
<polyline points="1109.7,947.6 1100.0,945.0 1103.2,954.5" fill="none" stroke="#777" stroke-width="1.3"/>
<line x1="1086" y1="902" x2="1125" y2="922" stroke="#000" stroke-width="2.8" stroke-linecap="round"/>
<line x1="1141" y1="901" x2="1160" y2="929" stroke="#000" stroke-width="2.8" stroke-linecap="round"/>
<line x1="1200" y1="861" x2="1188" y2="893" stroke="#000" stroke-width="2.8" stroke-linecap="round"/>
<line x1="1244" y1="889" x2="1209" y2="950" stroke="#000" stroke-width="2.8" stroke-linecap="round"/>
<line x1="1218" y1="1008" x2="1188" y2="960" stroke="#000" stroke-width="2.8" stroke-linecap="round"/>
<line x1="1052" y1="981" x2="1130" y2="976" stroke="#000" stroke-width="2.8" stroke-linecap="round"/>
<text transform="translate(1050.50,856.90) scale(1.0485,1)" font-size="25.0" text-anchor="middle" fill="#000" font-weight="normal" stroke="#000" stroke-width="0.75">PGO</text>
<text transform="translate(1199.00,856.90) scale(1.0485,1)" font-size="25.0" text-anchor="middle" fill="#000" font-weight="normal" stroke="#000" stroke-width="0.75">BND</text>
<text transform="translate(1132.00,896.90) scale(1.0485,1)" font-size="25.0" text-anchor="middle" fill="#000" font-weight="normal" stroke="#000" stroke-width="0.75">GUR</text>
<text transform="translate(1276.50,896.90) scale(1.0485,1)" font-size="25.0" text-anchor="middle" fill="#000" font-weight="normal" stroke="#000" stroke-width="0.75">UTG</text>
<text transform="translate(1050.00,911.90) scale(1.0485,1)" font-size="25.0" text-anchor="middle" fill="#000" font-weight="normal" stroke="#000" stroke-width="0.75">CRO</text>
<text transform="translate(1205.00,937.90) scale(1.0485,1)" font-size="25.0" text-anchor="middle" fill="#000" font-weight="normal" stroke="#000" stroke-width="0.75">XAR</text>
<text transform="translate(1318.50,936.90) scale(1.0485,1)" font-size="25.0" text-anchor="middle" fill="#000" font-weight="normal" stroke="#000" stroke-width="0.75">CAC</text>
<text transform="translate(1009.50,952.90) scale(1.0485,1)" font-size="25.0" text-anchor="middle" fill="#000" font-weight="normal" stroke="#000" stroke-width="0.75">PRT</text>
<text transform="translate(1085.50,952.90) scale(1.0485,1)" font-size="25.0" text-anchor="middle" fill="#000" font-weight="normal" stroke="#000" stroke-width="0.75">PBR</text>
<text transform="translate(1243.50,980.90) scale(1.0485,1)" font-size="25.0" text-anchor="middle" fill="#000" font-weight="normal" stroke="#000" stroke-width="0.75">CLA</text>
<text transform="translate(1321.50,978.90) scale(1.0485,1)" font-size="25.0" text-anchor="middle" fill="#000" font-weight="normal" stroke="#000" stroke-width="0.75">BOM</text>
<text transform="translate(1017.00,992.90) scale(1.0485,1)" font-size="25.0" text-anchor="middle" fill="#000" font-weight="normal" stroke="#000" stroke-width="0.75">PPM</text>
<text transform="translate(1166.50,992.90) scale(1.0485,1)" font-size="25.0" text-anchor="middle" fill="#000" font-weight="normal" stroke="#000" stroke-width="0.75">COR</text>
<text transform="translate(1096.00,1022.90) scale(1.0485,1)" font-size="25.0" text-anchor="middle" fill="#000" font-weight="normal" stroke="#000" stroke-width="0.75">DOU</text>
<text transform="translate(1222.00,1031.90) scale(1.0485,1)" font-size="25.0" text-anchor="middle" fill="#000" font-weight="normal" stroke="#000" stroke-width="0.75">ENC</text>
<text transform="translate(1355.50,1036.90) scale(1.0485,1)" font-size="25.0" text-anchor="middle" fill="#000" font-weight="normal" stroke="#000" stroke-width="0.75">SER</text>
<text transform="translate(1044.50,1064.90) scale(1.0485,1)" font-size="25.0" text-anchor="middle" fill="#000" font-weight="normal" stroke="#000" stroke-width="0.75">PAM</text>
<text transform="translate(1184.50,1075.90) scale(1.0485,1)" font-size="25.0" text-anchor="middle" fill="#000" font-weight="normal" stroke="#000" stroke-width="0.75">PTB</text>
<text transform="translate(1277.50,1072.90) scale(1.0485,1)" font-size="25.0" text-anchor="middle" fill="#000" font-weight="normal" stroke="#000" stroke-width="0.75">TMB</text>
<text transform="translate(1087.00,1114.90) scale(1.0485,1)" font-size="25.0" text-anchor="middle" fill="#000" font-weight="normal" stroke="#000" stroke-width="0.75">TAI</text>
<text transform="translate(1178.00,1116.90) scale(1.0485,1)" font-size="25.0" text-anchor="middle" fill="#000" font-weight="normal" stroke="#000" stroke-width="0.75">SAR</text>
</g>
</svg></body></html>
